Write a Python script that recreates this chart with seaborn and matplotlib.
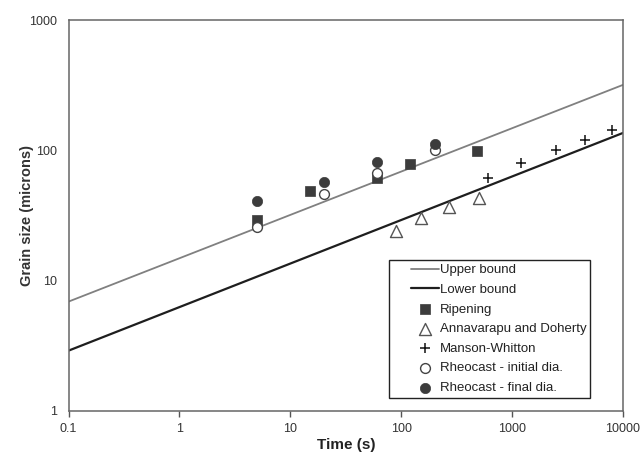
import matplotlib
matplotlib.use("Agg")
import matplotlib.pyplot as plt
import seaborn as sns
import pandas as pd
from matplotlib.ticker import FixedLocator, FixedFormatter, NullLocator
from matplotlib.lines import Line2D
from matplotlib.collections import PathCollection
from matplotlib.legend_handler import HandlerLine2D, HandlerPathCollection

# ---- data ----
bound_t = [0.1, 10000]
upper_bound = [6.9, 318]
lower_bound = [2.9, 136]

ripening_t = [5, 15, 60, 120, 480]
ripening_d = [29, 49, 61, 78, 98]

anna_t = [90, 150, 270, 500]
anna_d = [24, 30, 37, 43]

manson_t = [600, 1200, 2500, 4500, 8000]
manson_d = [61, 80, 101, 121, 142]

rheo_init_t = [5, 20, 60, 200]
rheo_init_d = [26, 46, 67, 100]

rheo_final_t = [5, 20, 60, 200]
rheo_final_d = [41, 57, 81, 112]

x_ticks = [0.1, 1, 10, 100, 1000, 10000]
x_labels = ["0.1", "1", "10", "100", "1000", "10000"]
y_ticks = [1, 10, 100, 1000]
y_labels = ["1", "10", "100", "1000"]

sns.set_theme(style="white")
plt.rcParams["font.family"] = ["Liberation Sans", "DejaVu Sans"]

fig = plt.figure(figsize=(6.41, 4.55), dpi=100)
ax = fig.add_axes([0.107, 0.097, 0.865, 0.859])

df_up = pd.DataFrame({"t": bound_t, "d": upper_bound})
df_lo = pd.DataFrame({"t": bound_t, "d": lower_bound})
sns.lineplot(data=df_up, x="t", y="d", ax=ax, color="#808080", lw=1.3, label="Upper bound")
sns.lineplot(data=df_lo, x="t", y="d", ax=ax, color="#1e1e1e", lw=1.6, label="Lower bound")

mk = "#3c3c3c"
sns.scatterplot(x=ripening_t, y=ripening_d, ax=ax, marker="s", s=62, color=mk,
                edgecolor=mk, linewidth=0.5, label="Ripening", zorder=3)
sns.scatterplot(x=anna_t, y=anna_d, ax=ax, marker="^", s=75, facecolor="white",
                edgecolor="#555555", linewidth=1.0, label="Annavarapu and Doherty", zorder=3)
sns.scatterplot(x=manson_t, y=manson_d, ax=ax, marker="+", s=60, color="#111111",
                linewidth=1.1, label="Manson-Whitton", zorder=3)
sns.scatterplot(x=rheo_init_t, y=rheo_init_d, ax=ax, marker="o", s=50, facecolor="white",
                edgecolor="#444444", linewidth=1.0, label="Rheocast - initial dia.", zorder=4)
sns.scatterplot(x=rheo_final_t, y=rheo_final_d, ax=ax, marker="o", s=55, color=mk,
                edgecolor=mk, linewidth=0.5, label="Rheocast - final dia.", zorder=4)

ax.set_xscale("log")
ax.set_yscale("log")
ax.set_xlim(0.1, 10000)
ax.set_ylim(1, 1000)
ax.xaxis.set_major_locator(FixedLocator(x_ticks))
ax.xaxis.set_major_formatter(FixedFormatter(x_labels))
ax.yaxis.set_major_locator(FixedLocator(y_ticks))
ax.yaxis.set_major_formatter(FixedFormatter(y_labels))
ax.xaxis.set_minor_locator(NullLocator())
ax.yaxis.set_minor_locator(NullLocator())
ax.tick_params(axis="x", direction="out", length=4, width=1, color="#555555",
               labelsize=9, labelcolor="#333333", pad=5, bottom=True)
ax.tick_params(axis="y", length=0, labelsize=9, labelcolor="#333333", pad=8, left=True)

for s in ax.spines.values():
    s.set_color("#666666")
    s.set_linewidth(1.1)

ax.set_xlabel("Time (s)", fontsize=11, fontweight="bold", color="#222222", labelpad=2)
ax.set_ylabel("Grain size (microns)", fontsize=10.5, fontweight="bold", color="#333333")
ax.yaxis.set_label_coords(-0.063, 0.5)

fs = 9.5
hmap = {Line2D: HandlerLine2D(xpad=1.35), PathCollection: HandlerPathCollection(xpad=1.35)}
leg = ax.legend(loc="lower left", bbox_to_anchor=(0.578, 0.033), fontsize=fs,
                frameon=True, fancybox=False, edgecolor="#222222", framealpha=1,
                handlelength=3.5, handletextpad=0.05, borderpad=0.3, labelspacing=0.56,
                borderaxespad=0, handler_map=hmap)
leg.get_frame().set_linewidth(1.0)
for t in leg.get_texts():
    t.set_color("#222222")

fig.savefig("out.png", dpi=100)
